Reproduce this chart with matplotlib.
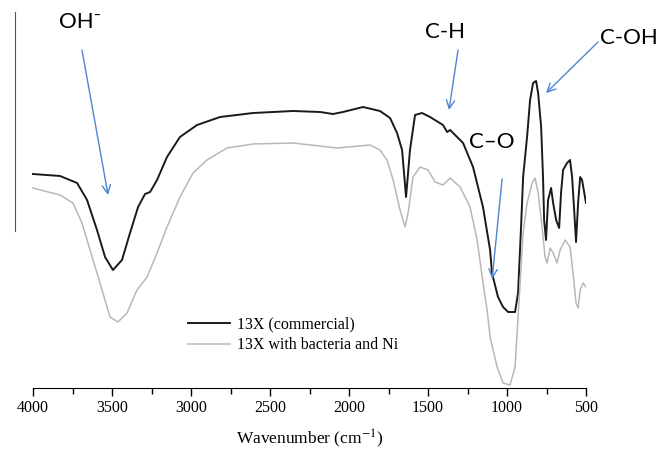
import matplotlib
matplotlib.use("Agg")
import matplotlib.pyplot as plt
import numpy as np

# FTIR spectra (arbitrary transmittance units)
wn_commercial = [4000, 3829, 3721, 3658, 3595, 3544, 3494, 3437, 3386, 3335, 3291, 3259,
                 3215, 3152, 3070, 2962, 2816, 2607, 2354, 2183, 2101, 2038, 1911, 1804,
                 1740, 1696, 1664, 1639, 1614, 1582, 1538, 1487, 1405, 1379, 1360, 1278,
                 1215, 1152, 1107, 1095, 1057, 1025, 993, 949, 930, 911, 898, 873, 854,
                 835, 816, 803, 784, 772, 765, 753, 740, 721, 708, 689, 670, 658, 645,
                 620, 601, 588, 575, 563, 550, 537, 525, 500]
t_commercial = [214, 212, 205, 188, 158, 131, 118, 128, 155, 181, 194, 196,
                208, 231, 251, 263, 271, 275, 277, 276, 274, 276, 281, 277,
                270, 255, 238, 191, 238, 273, 275, 271, 263, 256, 258, 245,
                221, 181, 138, 115, 91, 81, 76, 76, 95, 161, 211, 251, 288,
                305, 307, 295, 261, 211, 168, 148, 188, 200, 185, 168, 160, 195, 218,
                225, 228, 211, 178, 146, 185, 211, 208, 185]

wn_bacteria = [4000, 3829, 3747, 3690, 3639, 3576, 3513, 3462, 3405, 3342, 3278, 3215,
               3152, 3070, 2987, 2899, 2772, 2607, 2354, 2076, 1867, 1804, 1759, 1721,
               1677, 1645, 1626, 1595, 1550, 1500, 1455, 1405, 1360, 1297, 1234, 1189,
               1152, 1126, 1107, 1063, 1025, 981, 949, 930, 898, 873, 841, 822, 803,
               778, 759, 747, 727, 708, 683, 664, 632, 601, 582, 563, 550, 537, 518, 500]
t_bacteria = [200, 193, 185, 165, 138, 105, 71, 66, 75, 98, 111, 135,
              161, 191, 215, 228, 240, 244, 245, 240, 243, 238, 228, 208,
              178, 161, 175, 211, 221, 218, 206, 203, 210, 201, 181, 148,
              105, 78, 51, 21, 5, 3, 21, 71, 155, 185, 205, 210, 195,
              161, 131, 125, 140, 135, 125, 138, 148, 141, 115, 85, 80, 98, 105, 101]

labels = ["13X (commercial)", "13X with bacteria and Ni"]

# band annotations: text, text position, arrow start, arrow end, alignment
bands = [
    ("OH\u207b", (3702, 366), (3690, 338), (3525, 193), "center"),
    ("C-H", (1392, 356), (1310, 338), (1367, 278), "center"),
    ("C-OH", (410, 350), (424, 346), (753, 295), "left"),
    ("C\u2013O", (1094, 246), (1031, 209), (1094, 109), "center"),
]

plt.rcParams["font.family"] = ["Liberation Serif", "DejaVu Serif"]
plt.rcParams["mathtext.fontset"] = "stix"

fig = plt.figure(figsize=(6.59, 4.49), dpi=100)
ax = fig.add_axes([15 / 659, 61 / 449, 571 / 659, 376 / 449])

ax.plot(wn_commercial, t_commercial, color="#1a1a1a", lw=1.4, label=labels[0],
        solid_joinstyle="round")
ax.plot(wn_bacteria, t_bacteria, color="#b8b8b8", lw=1.1, label=labels[1],
        solid_joinstyle="round")

ax.set_xlim(4114, 500)
ax.set_ylim(0, 376)

ax.spines["top"].set_visible(False)
ax.spines["right"].set_visible(False)
ax.spines["bottom"].set_bounds(500, 4000)
ax.spines["left"].set_bounds(157, 376)
ax.spines["left"].set_color("#555555")

ax.set_xticks(np.arange(4000, 499, -500))
ax.set_xticks(np.arange(3750, 500, -500), minor=True)
ax.tick_params(axis="x", which="major", length=6, width=1, labelsize=11.5, pad=3)
ax.tick_params(axis="x", which="minor", length=4, width=1)
ax.set_yticks([])

ax.set_xlabel("Wavenumber (cm$^{-1}$)", fontsize=12.5)
ax.xaxis.set_label_coords((310 - 15) / 571, -0.105)

for text, tpos, start, end, ha in bands:
    ax.text(tpos[0], tpos[1], text, fontsize=16, family=["Lato", "DejaVu Sans"],
            ha=ha, va="center", clip_on=False)
    ax.annotate("", xy=end, xytext=start,
                arrowprops=dict(arrowstyle="->,head_length=0.6,head_width=0.3",
                                color="#4f86cf", lw=1.0, shrinkA=0, shrinkB=0),
                annotation_clip=False)

ax.legend(loc="upper left", bbox_to_anchor=(0.303, 0.19), frameon=False,
          fontsize=11.5, handlelength=2.6, handletextpad=0.45,
          borderpad=0, borderaxespad=0, labelspacing=0.3)

fig.savefig("out.png", dpi=100)
